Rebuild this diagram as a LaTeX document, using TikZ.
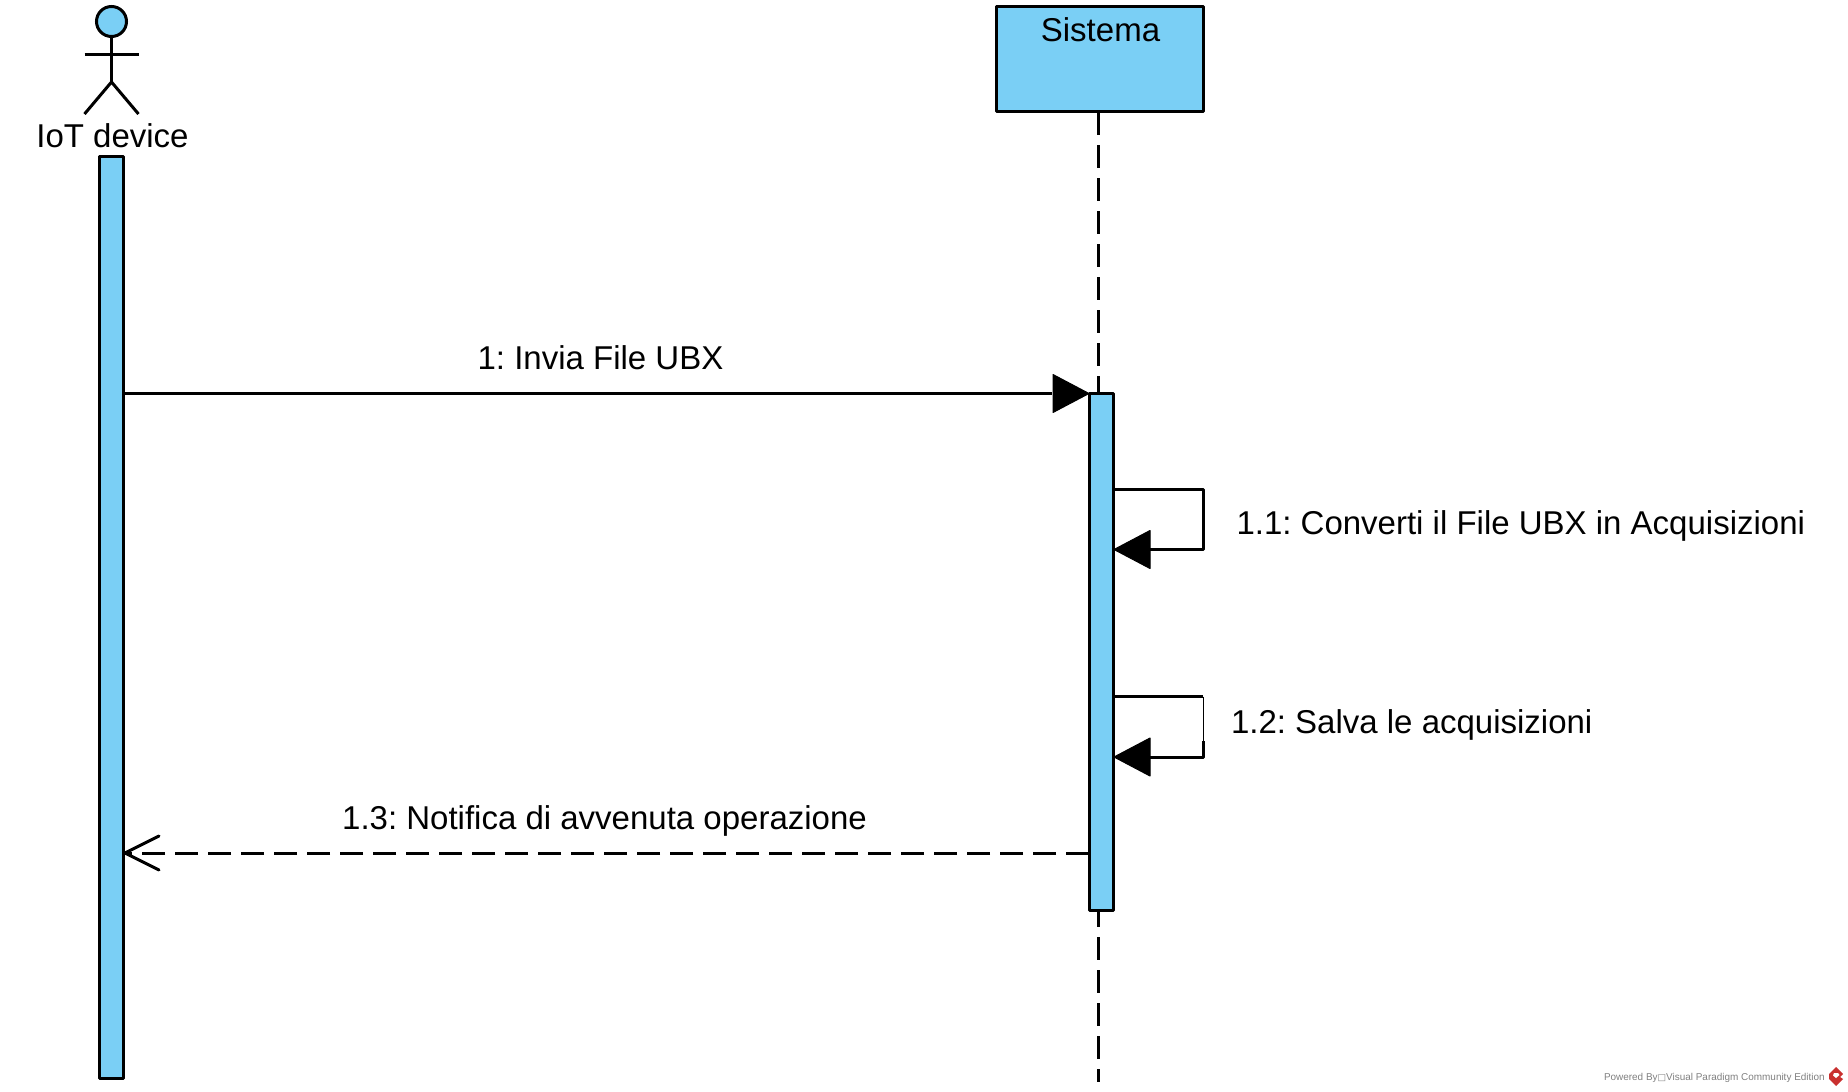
\documentclass[tikz,border=0pt]{standalone}
\usepackage{fontspec}
\setmainfont{Liberation Sans}
\newfontfamily\boxfont{DejaVu Sans}
\usetikzlibrary{calc}
\definecolor{vpblue}{HTML}{7ACFF5}
\definecolor{vpred}{HTML}{C9302F}
\newcommand{\bigtxt}{\fontsize{33}{36}\selectfont\frenchspacing}
\tikzset{
  x=1pt,y=-1pt,
  every node/.style={inner sep=0pt,outer sep=0pt},
  ln/.style={line width=3pt,black,line join=round},
  dashln/.style={ln,dash pattern=on 23pt off 10pt},
  barbox/.style={draw=black,line width=3pt,fill=vpblue,rectangle,anchor=north west,line join=round},
  lbl/.style={font=\bigtxt,text=black,anchor=base},
  solidhead/.style={fill=black,draw=black,line width=1pt,line join=round},
}
\begin{document}
\begin{tikzpicture}
\useasboundingbox (0,0) rectangle (1848,1092);
\fill[white] (0,0) rectangle (1848,1092);

% lifeline of Sistema, behind everything
\coordinate (lifeTop) at (1098,112);
\coordinate (lifeEnd) at (1098,1082);
\draw[dashln] (lifeTop) -- (lifeEnd);

% actor
\node[circle,draw=black,line width=3pt,fill=vpblue,minimum size=30pt] (head) at (111.5,21.5) {};
\coordinate (neck) at (111.5,54);
\coordinate (hip) at (111.5,82);
\coordinate (handL) at (84.5,54);
\coordinate (handR) at (138.5,54);
\coordinate (footL) at (84.5,114);
\coordinate (footR) at (138.5,114);
\draw[ln] (head.south) -- (hip);
\draw[ln] (handL) -- (handR);
\draw[ln] (footL) -- (hip) -- (footR);
\node[lbl,anchor=base] (actorlabel) at (112.5,147) {IoT device};

% Sistema box
\node[barbox,minimum width=207pt,minimum height=105pt] (sys) at (996.5,6.5) {};
\node[lbl] (syslabel) at (1100.5,41) {Sistema};

% activation bars
\node[barbox,minimum width=23.5pt,minimum height=921.5pt] (barA) at (99.5,156.5) {};
\node[barbox,minimum width=23.5pt,minimum height=517pt] (barS) at (1089.5,393.5) {};

% named connector ends
\coordinate (m1s) at (123,393.5);
\coordinate (m1e) at (1052,393.5);
\coordinate (s1a) at (1113,489.5);
\coordinate (s1b) at (1203,489.5);
\coordinate (s1c) at (1203,549.5);
\coordinate (s1d) at (1150,549.5);
\coordinate (s2a) at (1113,696.5);
\coordinate (s2b) at (1203,696.5);
\coordinate (s2m) at (1203,741);
\coordinate (s2c) at (1203,757);
\coordinate (s2d) at (1150,757);
\coordinate (m3s) at (1089,853);
\coordinate (m3e) at (124,853);

% message 1
\draw[ln] (m1s) -- (m1e);
\draw[solidhead] (1089,393.5) -- (1053,374.5) -- (1053,412.5) -- cycle;
\node[lbl] (m1label) at (600.5,369) {1: Invia File UBX};

% self message 1.1
\draw[ln] (s1a) -- (s1b) -- (s1c) -- (s1d);
\draw[solidhead] (1114,549.5) -- (1150,530.5) -- (1150,568.5) -- cycle;
\node[lbl,anchor=base west] (s1label) at (1236.5,534) {1.1: Converti il File UBX in Acquisizioni};

% self message 1.2
\draw[ln] (s2a) -- (s2b);
\draw[line width=1pt,black] (s2b) -- (s2m);
\draw[ln] (s2m) -- (s2c) -- (s2d);
\draw[solidhead] (1114,757) -- (1150,738) -- (1150,776) -- cycle;
\node[lbl,anchor=base west] (s2label) at (1231,733) {1.2: Salva le acquisizioni};

% message 1.3
\draw[dashln] (m3s) -- (m3e);
\draw[ln,line cap=round] (159,836) -- (125,853) -- (159,870);
\node[lbl] (m3label) at (604.5,829) {1.3: Notifica di avvenuta operazione};

% watermark
\node[anchor=base west,text=black!50,font=\fontsize{9.95}{12}\selectfont] (wm) at (1604,1080)
  {Powered By{\boxfont\fontsize{9}{12}\selectfont □}Visual Paradigm Community Edition};
\fill[vpred] (1836,1067) -- (1843,1074) -- (1840,1077) -- (1843,1079) -- (1836,1086) -- (1829,1079) -- (1829,1074) -- cycle;
\fill[white] (1834,1073) -- (1838,1073) -- (1839.5,1075) -- (1836,1078) -- (1833,1075.5) -- cycle;
\end{tikzpicture}
\end{document}
